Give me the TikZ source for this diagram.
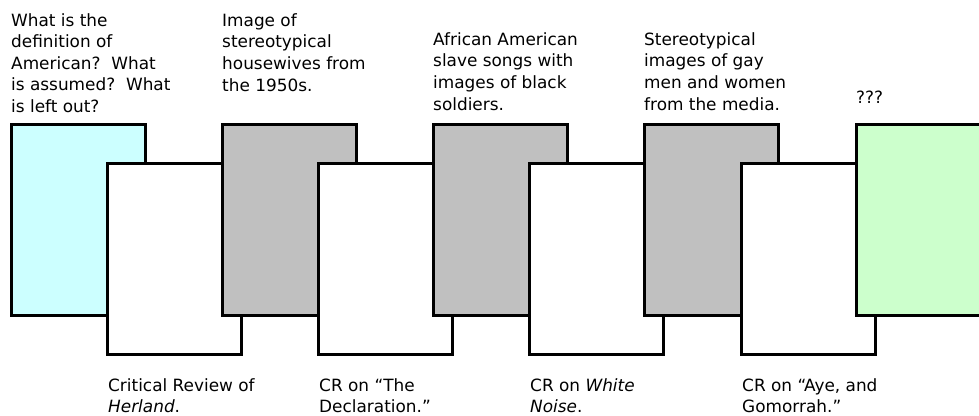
\documentclass[tikz,border=0pt]{standalone}
\usepackage{fontspec}
\setmainfont{DejaVu Sans}
\definecolor{paleaqua}{HTML}{CCFFFF}
\definecolor{palemint}{HTML}{CCFFCC}
\definecolor{cardgray}{HTML}{C0C0C0}

\begin{document}
\begin{tikzpicture}[x=1pt, y=-1pt,
  card/.style={rectangle, draw=black, line width=3pt, outer sep=0pt, inner sep=0pt,
    minimum width=134pt, minimum height=191pt, anchor=north west},
  revcard/.style={card, fill=white},
  cue/.style={anchor=base west, align=left, inner sep=0pt,
    font=\fontsize{16.9}{21.6}\selectfont}
]
\useasboundingbox (0,0) rectangle (979,415);
\clip (0,0) rectangle (979,415);

% cartas de cima e de baixo, da esquerda para a direita
\node[card, fill=paleaqua] (ideia) at (11,124) {};
\node[revcard] (herland) at (107,163) {};
\node[card, fill=cardgray] (donas) at (222,124) {};
\node[revcard] (declaracao) at (318,163) {};
\node[card, fill=cardgray] (cancoes) at (433,124) {};
\node[revcard] (ruido) at (529,163) {};
\node[card, fill=cardgray] (midia) at (644,124) {};
\node[revcard] (gomorra) at (741,163) {};
\node[card, fill=palemint] (final) at (856,124) {};

% textos de cima (ancorados na ultima linha)
\node[cue] (q1) at (11,112.5) {What is the\\definition of\\American?~~What\\is assumed?~~What\\is left out?};
\node[cue] (q2) at (222,91) {Image of\\stereotypical\\housewives from\\the 1950s.};
\node[cue] (q3) at (433,110) {African American\\slave songs with\\images of black\\soldiers.};
\node[cue] (q4) at (644,110) {Stereotypical\\images of gay\\men and women\\from the media.};
\node[cue] (q5) at (856,103) {???};

% textos de baixo
\node[cue] (r1) at (108,412.6) {Critical Review of\\\textit{Herland}.};
\node[cue] (r2) at (319,412.6) {CR on “The\\Declaration.”};
\node[cue] (r3) at (530,412.6) {CR on \textit{White}\\\textit{Noise}.};
\node[cue] (r4) at (742,412.6) {CR on “Aye, and\\Gomorrah.”};

\end{tikzpicture}
\end{document}
